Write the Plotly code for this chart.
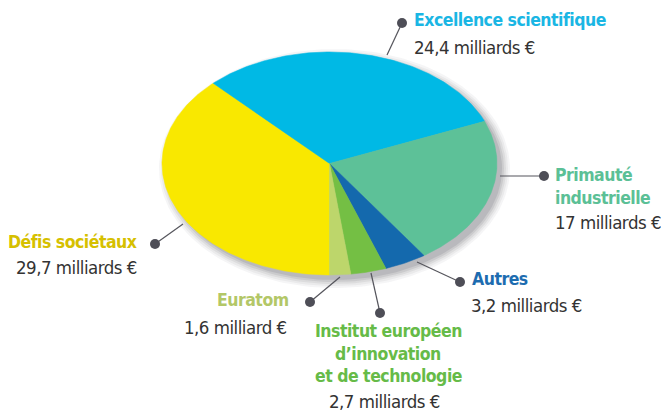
import numpy as np
import plotly.graph_objects as go

# ---- data ----
categories = ["Défis sociétaux", "Excellence scientifique", "Primauté<br>industrielle",
              "Autres", "Institut européen<br>d’innovation<br>et de technologie", "Euratom"]
values = [29.7, 24.4, 17.0, 3.2, 2.7, 1.6]
value_labels = ["29,7 milliards €", "24,4 milliards €", "17 milliards €",
                "3,2 milliards €", "2,7 milliards €", "1,6 milliard €"]

# ---- style ----
slice_colors = ["#f9e800", "#00b9e5", "#5dc198", "#1469ad", "#74bf44", "#bdd66b"]
label_colors = ["#d6c000", "#1ab6e4", "#5bc096", "#1d6cb0", "#66bb48", "#b3c767"]
value_color = "#333333"
FONT = "DejaVu Sans Condensed, sans-serif"

W, H = 661, 413
cx, cy, rx, ry = 329.5, 163.5, 167.5, 111.5

fig = go.Figure()

# soft shadow
for d, a in [(8, 0.05), (6, 0.06), (4, 0.08), (2, 0.10), (0, 0.12)]:
    t = np.linspace(0, 2 * np.pi, 200)
    fig.add_trace(go.Scatter(
        x=cx + 5 + (rx + d) * np.cos(t), y=cy + 5 + (ry + d) * np.sin(t),
        mode="lines", fill="toself", fillcolor=f"rgba(60,60,70,{a})",
        line=dict(width=0), hoverinfo="skip", showlegend=False))

# elliptical pie wedges, computed from the values
total = sum(values)
start = 0.0
for v, c, name in zip(values, slice_colors, categories):
    a0 = start / total * 2 * np.pi
    a1 = (start + v) / total * 2 * np.pi
    phi = np.linspace(a0, a1, max(int(v * 6), 8))
    xs = np.concatenate([[cx], cx - rx * np.sin(phi), [cx]])
    ys = np.concatenate([[cy], cy + ry * np.cos(phi), [cy]])
    fig.add_trace(go.Scatter(x=xs, y=ys, mode="lines", fill="toself", fillcolor=c,
                             line=dict(width=0.5, color=c), name=name.replace("<br>", " "),
                             hoverinfo="name", showlegend=False))
    start += v

# leader lines: (start on pie, dot)
leaders = [((183, 224), (155, 244)), ((387, 55), (402, 23)), ((500, 176), (544, 176)),
           ((417, 262), (460, 282)), ((371, 273), (380, 313)), ((340, 277), (310, 302))]
for (x0, y0), (x1, y1) in leaders:
    fig.add_trace(go.Scatter(x=[x0, x1], y=[y0, y1], mode="lines",
                             line=dict(color="#55555c", width=1.2),
                             hoverinfo="skip", showlegend=False))
fig.add_trace(go.Scatter(x=[l[1][0] for l in leaders], y=[l[1][1] for l in leaders],
                         mode="markers", marker=dict(size=10, color="#4e4e57"),
                         hoverinfo="skip", showlegend=False))

# label placements: (x, y of first line, anchor)
placements = [(139, 242, "right"), (412, 20, "left"), (553, 175, "left"),
              (470, 279, "left"), (388, 331, "center"), (291, 300, "right")]
value_pos = [(139, 267), (412, 47), (553, 222), (469, 305), (384, 401), (289, 327)]
step = 22.5


def tight(s, ls):
    return f"<span style='letter-spacing:{ls}px'>{s}</span>"


for cat, col, (x, y, anc), vl, (vx, vy) in zip(categories, label_colors, placements,
                                               value_labels, value_pos):
    for i, line in enumerate(cat.split("<br>")):
        fig.add_annotation(x=x, y=y + i * step, text=tight(line, -0.5), showarrow=False,
                           xanchor=anc, yanchor="middle",
                           font=dict(family=FONT, size=17.5, color=col, weight="bold"))
    fig.add_annotation(x=vx, y=vy, text=tight(vl, -0.5), showarrow=False,
                       xanchor=anc, yanchor="middle",
                       font=dict(family=FONT, size=18.5, color=value_color))

fig.update_layout(
    width=W, height=H, margin=dict(l=0, r=0, t=0, b=0),
    paper_bgcolor="white", plot_bgcolor="white",
    xaxis=dict(range=[0, W], visible=False, fixedrange=True),
    yaxis=dict(range=[H, 0], visible=False, fixedrange=True),
)
fig.write_html("out.html", config={"displayModeBar": False},
               post_script="document.body.style.margin='0';")
